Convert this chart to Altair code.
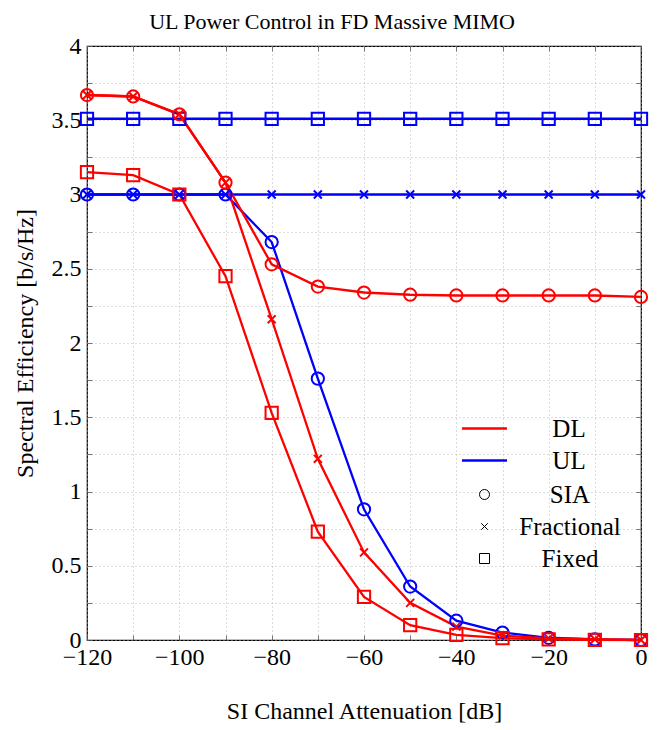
import altair as alt
import pandas as pd

x_db = [-120, -110, -100, -90, -80, -70, -60, -50, -40, -30, -20, -10, 0]
dl_sia = [3.67, 3.66, 3.54, 3.08, 2.53, 2.38, 2.34, 2.325, 2.32, 2.32, 2.32, 2.32, 2.31]
dl_frac = [3.67, 3.66, 3.54, 3.08, 2.16, 1.22, 0.59, 0.25, 0.09, 0.03, 0.01, 0.005, 0.0]
dl_fixed = [3.15, 3.13, 3.0, 2.45, 1.53, 0.73, 0.29, 0.10, 0.035, 0.012, 0.004, 0.001, 0.0]
ul_sia = [3.0, 3.0, 3.0, 3.0, 2.68, 1.76, 0.88, 0.36, 0.13, 0.05, 0.015, 0.004, 0.0]
ul_frac = [3.0] * 13
ul_fixed = [3.51] * 13

links = ["DL", "UL"]
schemes = ["SIA", "Fractional", "Fixed"]
link_colors = ["#ff0000", "#0000ff"]
x_ticks = list(range(-120, 1, 10))
y_ticks = [i * 0.25 for i in range(17)]

series = [
    ("UL", "SIA", ul_sia), ("UL", "Fractional", ul_frac), ("UL", "Fixed", ul_fixed),
    ("DL", "SIA", dl_sia), ("DL", "Fractional", dl_frac), ("DL", "Fixed", dl_fixed),
]
rows = []
for order, (lk, sc, vals) in enumerate(series):
    for xv, yv in zip(x_db, vals):
        rows.append({"link": lk, "scheme": sc, "series": lk + " " + sc, "ord": order, "x": xv, "y": yv})
df = pd.DataFrame(rows)

FONT = "Liberation Serif"
xpath = "M-0.65,-0.65L0.65,0.65M-0.65,0.65L0.65,-0.65"
line_sym = "M-1.5,0L1.5,0"

xscale = alt.Scale(domain=[-120, 0], nice=False, zero=False)
yscale = alt.Scale(domain=[0, 4], nice=False)

x_main = alt.X("x:Q", scale=xscale, title="SI Channel Attenuation [dB]",
               axis=alt.Axis(orient="bottom", values=x_ticks,
                             labelExpr="datum.value % 20 == 0 ? format(datum.value, '~g') : ''",
                             offset=-5, labelPadding=5, titlePadding=30, grid=True))
y_main = alt.Y("y:Q", scale=yscale, title="Spectral Efficiency [b/s/Hz]",
               axis=alt.Axis(orient="left", values=y_ticks,
                             labelExpr="datum.value % 0.5 == 0 ? format(datum.value, '~g') : ''",
                             offset=-5, labelPadding=6, titlePadding=14, grid=True))

color_enc = alt.Color("link:N", scale=alt.Scale(domain=links, range=link_colors),
                      legend=alt.Legend(title=None, orient="none", legendX=381, legendY=366,
                                        symbolType=line_sym, symbolSize=900, symbolStrokeWidth=2.5,
                                        labelAlign="center", labelOffset=68, rowPadding=2,
                                        padding=0))

lines = alt.Chart(df).mark_line(strokeWidth=2.3).encode(
    x=x_main, y=y_main, color=color_enc, detail="series:N",
    order=alt.Order("ord:Q"))

points = alt.Chart(df).mark_point(filled=False, strokeWidth=2, size=150, opacity=1).encode(
    x=alt.X("x:Q", scale=xscale, axis=None),
    y=alt.Y("y:Q", scale=yscale, axis=None),
    color=alt.Color("link:N", scale=alt.Scale(domain=links, range=link_colors), legend=None),
    shape=alt.Shape("scheme:N", scale=alt.Scale(domain=schemes, range=["circle", xpath, "square"]),
                    legend=alt.Legend(title=None, orient="none", legendX=385, legendY=436,
                                      symbolStrokeColor="black", symbolFillColor="transparent",
                                      symbolStrokeWidth=1, symbolSize=100,
                                      labelAlign="center", labelOffset=73, rowPadding=6,
                                      padding=0)),
    order=alt.Order("ord:Q"))

x_top = alt.X("x:Q", scale=xscale, axis=alt.Axis(orient="top", values=x_ticks, labels=False,
                                                 title=None, offset=-5, grid=False))
y_right = alt.Y("y:Q", scale=yscale, axis=alt.Axis(orient="right", values=y_ticks, labels=False,
                                                   title=None, offset=-5, grid=False))
frame = alt.Chart(df).mark_point(opacity=0).encode(x=x_top, y=y_right)

chart = alt.layer(lines, points, frame).resolve_axis(x="independent", y="independent").properties(
    width=554, height=594,
    padding={"left": 5, "top": 3, "right": 5, "bottom": 0},
    title=alt.TitleParams("UL Power Control in FD Massive MIMO", font=FONT, fontSize=22,
                          fontWeight="normal", color="black", anchor="middle", frame="bounds",
                          offset=0),
).configure_view(stroke="black", strokeWidth=1.2).configure_axis(
    labelFont=FONT, labelFontSize=24, labelColor="black", labelFlush=False, labelOverlap=False,
    titleFont=FONT, titleFontSize=24, titleFontWeight="normal", titleColor="black",
    domain=False, tickSize=5, tickColor="#555555", tickWidth=0.8,
    gridDash=[1, 3], gridColor="#b0b0b0", gridWidth=0.9,
).configure_legend(
    labelFont=FONT, labelFontSize=25, labelColor="black", labelLimit=300,
)

chart.save("out.html", embed_options={"renderer": "svg", "actions": False})
